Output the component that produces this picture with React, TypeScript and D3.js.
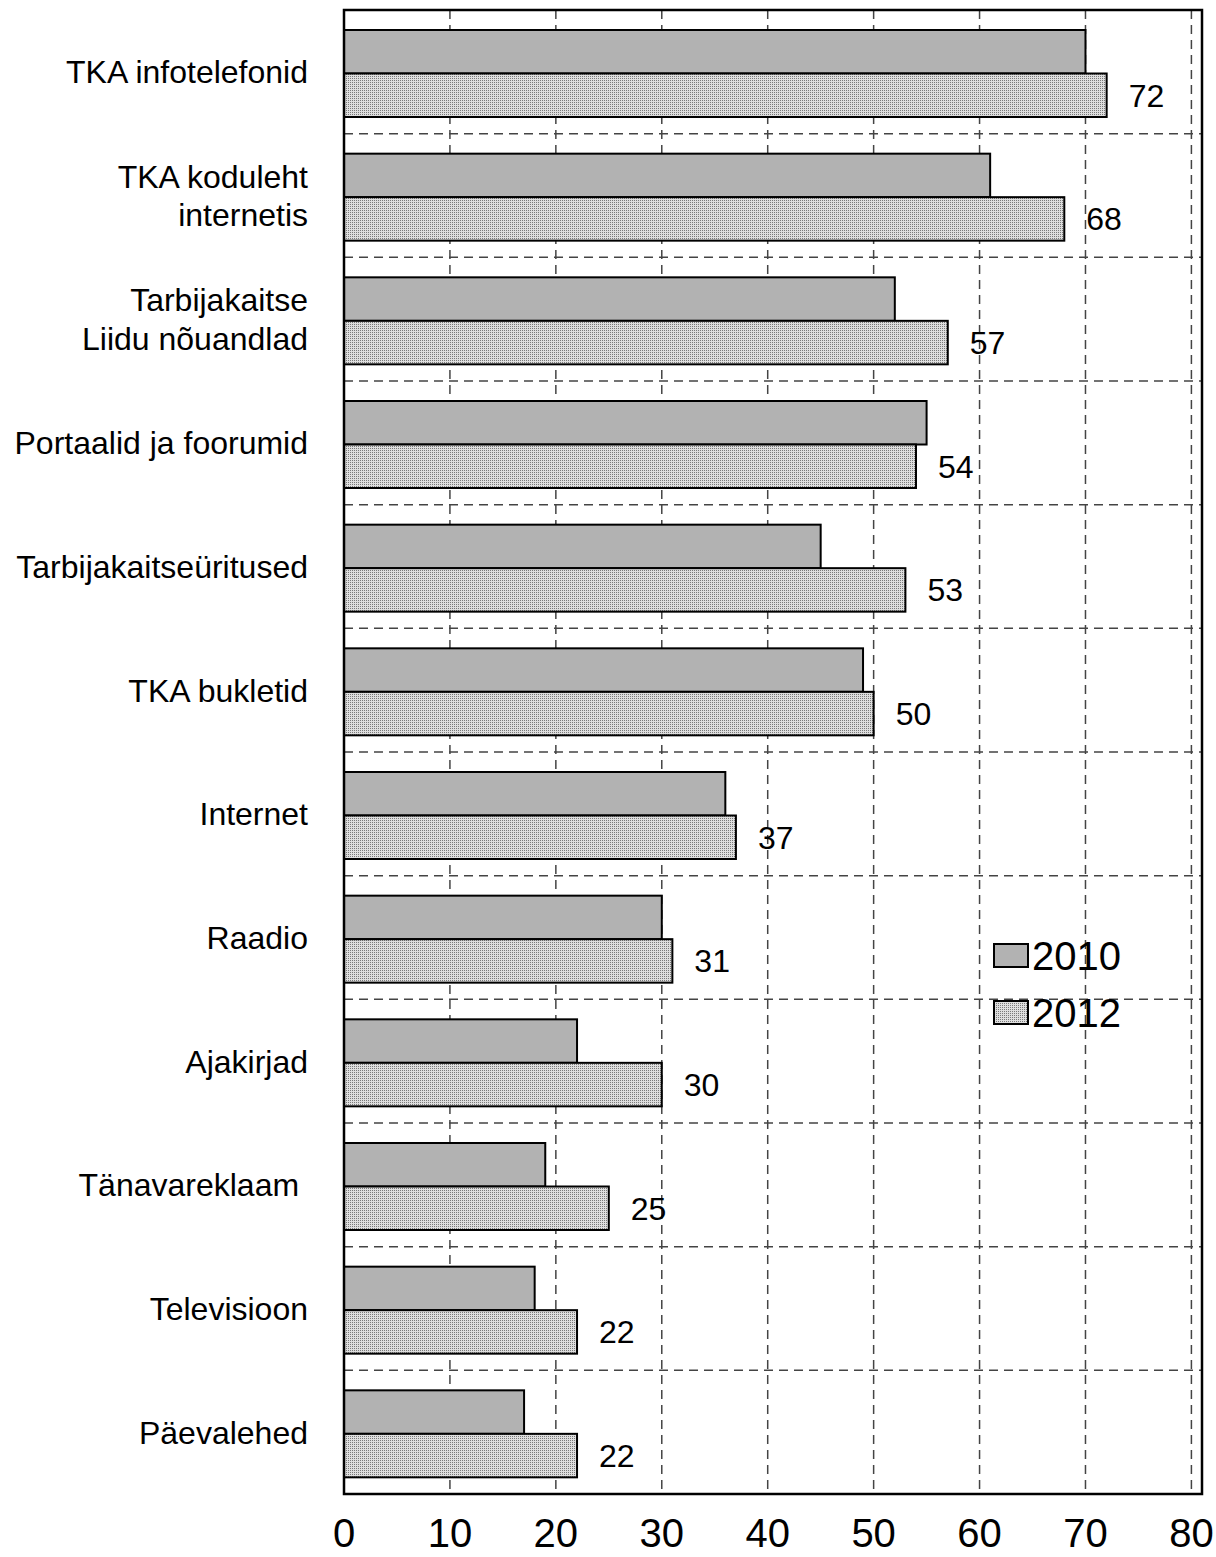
import * as d3 from 'd3'

const categories: string[][] = [
  ['TKA infotelefonid'],
  ['TKA koduleht', 'internetis'],
  ['Tarbijakaitse', 'Liidu nõuandlad'],
  ['Portaalid ja foorumid'],
  ['Tarbijakaitseüritused'],
  ['TKA bukletid'],
  ['Internet'],
  ['Raadio'],
  ['Ajakirjad'],
  ['Tänavareklaam\u00a0'],
  ['Televisioon'],
  ['Päevalehed'],
]
const values2010 = [70, 61, 52, 55, 45, 49, 36, 30, 22, 19, 18, 17]
const values2012 = [72, 68, 57, 54, 53, 50, 37, 31, 30, 25, 22, 22]
const ticks = [0, 10, 20, 30, 40, 50, 60, 70, 80]
const seriesNames = ['2010', '2012']

const W = 1216
const H = 1557
const left = 344
const right = 1202
const top = 10
const bottom = 1494
const font = 'Arial, "Liberation Sans", sans-serif'

export default function App() {
  const x = d3.scaleLinear().domain([0, 81]).range([left, right])
  const y = d3
    .scaleBand<number>()
    .domain(d3.range(categories.length))
    .range([top, bottom])
  const bw = y.bandwidth()
  const barTop = 20
  const barH = 43.5

  return (
    <svg
      width={W}
      height={H}
      style={{ position: 'absolute', left: 0, top: 0, background: '#fff' }}
    >
      <defs>
        <pattern id="dots" width={2} height={2} patternUnits="userSpaceOnUse">
          <rect width={2} height={2} fill="#dedede" />
          <rect width={1} height={1} fill="#7a7a7a" />
        </pattern>
      </defs>
      {/* vertical grid */}
      {ticks.slice(1).map((t) => (
        <line
          key={'v' + t}
          x1={x(t)}
          x2={x(t)}
          y1={top}
          y2={bottom}
          stroke="#444"
          strokeWidth={1.5}
          strokeDasharray="9 6"
        />
      ))}
      {/* horizontal grid between categories */}
      {d3.range(1, categories.length).map((i) => (
        <line
          key={'h' + i}
          x1={left}
          x2={right}
          y1={y(i)!}
          y2={y(i)!}
          stroke="#444"
          strokeWidth={1.5}
          strokeDasharray="9 6"
        />
      ))}
      {categories.map((cat, i) => {
        const y0 = y(i)!
        return (
          <g key={i}>
            <rect
              x={x(0)}
              y={y0 + barTop}
              width={x(values2010[i]) - x(0)}
              height={barH}
              fill="#b2b2b2"
              stroke="#000"
              strokeWidth={2}
            />
            <rect
              x={x(0)}
              y={y0 + barTop + barH}
              width={x(values2012[i]) - x(0)}
              height={barH}
              fill="url(#dots)"
              stroke="#000"
              strokeWidth={2}
            />
            <text
              x={x(values2012[i]) + 22}
              y={y0 + barTop + barH * 1.5}
              dy="0.36em"
              fontFamily={font}
              fontSize={32}
            >
              {values2012[i]}
            </text>
            <text
              x={308}
              y={y0 + bw / 2}
              textAnchor="end"
              fontFamily={font}
              fontSize={32}
            >
              {cat.map((line, k) => (
                <tspan
                  key={k}
                  x={308}
                  dy={k === 0 ? `${0.36 - (cat.length - 1) * 0.6}em` : '1.2em'}
                >
                  {line}
                </tspan>
              ))}
            </text>
          </g>
        )
      })}
      {/* frame */}
      <rect
        x={left}
        y={top}
        width={right - left}
        height={bottom - top}
        fill="none"
        stroke="#000"
        strokeWidth={2.5}
      />
      {/* tick labels */}
      {ticks.map((t) => (
        <text
          key={'t' + t}
          x={x(t)}
          y={1547}
          textAnchor="middle"
          fontFamily={font}
          fontSize={40}
        >
          {t}
        </text>
      ))}
      {/* legend */}
      {seriesNames.map((s, k) => (
        <g key={s} transform={`translate(994,${944 + k * 57})`}>
          <rect
            width={34}
            height={23}
            fill={k === 0 ? '#b2b2b2' : 'url(#dots)'}
            stroke="#000"
            strokeWidth={2}
          />
          <text x={38} y={12} dy="0.36em" fontFamily={font} fontSize={40}>
            {s}
          </text>
        </g>
      ))}
    </svg>
  )
}
